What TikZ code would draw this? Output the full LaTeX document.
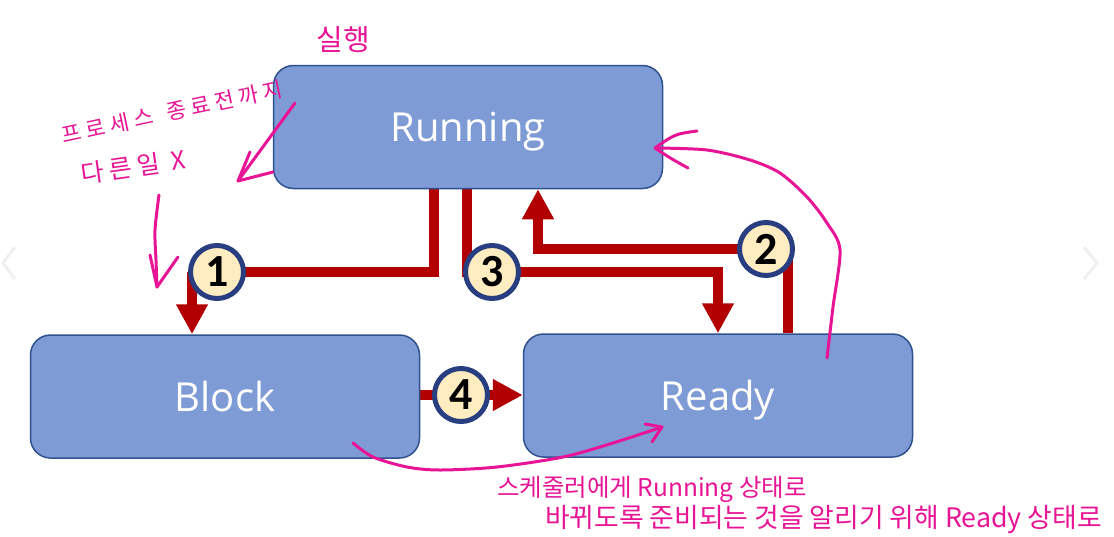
\documentclass[tikz,border=0pt]{standalone}
\usepackage{fontspec}
\setmainfont{Open Sans}
\newfontfamily\boxfont{Open Sans}
\newfontfamily\numfont{Carlito}
\newfontfamily\hand{Noto Sans CJK KR}
\newfontfamily\handsp{Noto Sans CJK KR}[LetterSpace=22]
\usetikzlibrary{arrows.meta,backgrounds}
\definecolor{boxfill}{RGB}{127,155,213}
\definecolor{boxdraw}{RGB}{47,82,143}
\definecolor{redc}{RGB}{178,0,0}
\definecolor{cream}{RGB}{255,236,192}
\definecolor{navy}{RGB}{41,62,128}
\definecolor{pink}{RGB}{232,20,150}
\tikzset{
  state/.style={draw=boxdraw, fill=boxfill, line width=1.5pt, rounded corners=20pt,
    minimum width=389pt, minimum height=123pt, inner sep=0pt, text=white,
    text height=29pt, text depth=0pt,
    font=\boxfont\fontsize{40}{48}\selectfont},
  badge/.style={circle, draw=navy, line width=5pt, fill=cream, minimum size=53pt,
    inner sep=0pt, font=\numfont\bfseries\fontsize{46}{50}\selectfont},
  flow/.style={draw=redc, line width=10pt, line join=miter},
  flowarrow/.style={flow, -{Triangle[width=30pt,length=30pt]}},
  ink/.style={draw=pink, line width=3pt, line cap=round, line join=round},
  note/.style={text=pink, inner sep=0pt},
  chev/.style={draw=gray!12, line width=3pt}
}
\begin{document}
\begin{tikzpicture}[x=1pt,y=-1pt]
\useasboundingbox (0,0) rectangle (1114,536);

% states
\node[state] (Running) at (468,127) {Running};
\node[state] (Block) at (225,396.5) {Block};
\node[state] (Ready) at (718,395.5) {Ready};

% badges
\node[badge] (n1) at (217,272) {1};
\node[badge] (n2) at (766,249) {2};
\node[badge] (n3) at (492,272) {3};
\node[badge] (n4) at (461,395) {4};

% red transitions
\begin{scope}[on background layer]
  \fill[white] (0,0) rectangle (1114,536);
  \draw[flow] ([xshift=-34pt]Running.south) |- (n1.center);
  \draw[flowarrow] ([xshift=-25pt]n1.center) -- ([xshift=-25pt]n1.center |- Block.north);
  \draw[flow] ([xshift=-1pt]Running.south) |- (n3.center);
  \draw[flowarrow] (n3.center) -| (Ready.north);
  \draw[flow] ([xshift=70pt]Ready.north) |- (n2.center);
  \draw[flowarrow] (n2.center) -| ([xshift=70pt]Running.south);
  \draw[flow] (Block.east |- n4.center) -- (n4.center);
  \draw[flowarrow] (n4.center) -- (Ready.west |- n4.center);
\end{scope}

% handwritten notes
\node[note, font=\hand\fontsize{29}{32}\selectfont] (t1) at (343,40) {실행};
\node[note, rotate=12, font=\handsp\fontsize{21.5}{24}\selectfont] (t2) at (172,112) {프로세스\hspace{14pt}종료전까지};
\node[note, rotate=8, font=\handsp\fontsize{25}{28}\selectfont] (t3) at (133,167) {다른일 X};
\node[note, anchor=west, font=\hand\fontsize{24.5}{27}\selectfont] (t4) at (497,489) {스케줄러에게 Running 상태로};
\node[note, anchor=west, font=\hand\fontsize{26.8}{29}\selectfont] (t5) at (545,520) {바뀌도록 준비되는 것을 알리기 위해 Ready 상태로};

% handwritten arrows
\draw[ink] (295,103) -- (238,181);
\draw[ink] (250,152) -- (238,181) -- (273,172);
\draw[ink] plot[smooth] coordinates {(159,195) (155,230) (156,260) (157,287)};
\draw[ink] (150,255) -- (157,287) -- (178,257);
\draw[ink] plot[smooth] coordinates {(827,358) (833,307) (840,250) (827,223) (807,197) (780,173) (750,160) (707,150) (655,148)};
\draw[ink] (697,131) .. controls (675,134) .. (655,148) .. controls (670,158) .. (688,168);
\draw[ink] plot[smooth] coordinates {(353,443) (373,457) (407,467) (440,470) (497,467) (563,457) (613,443) (662,427)};
\draw[ink] (645,424) -- (662,427) -- (652,442);

% slide navigation chevrons
\draw[chev] (15,247) -- (3,263) -- (15,279);
\draw[chev] (1084,247) -- (1097,263) -- (1084,279);
\end{tikzpicture}
\end{document}
